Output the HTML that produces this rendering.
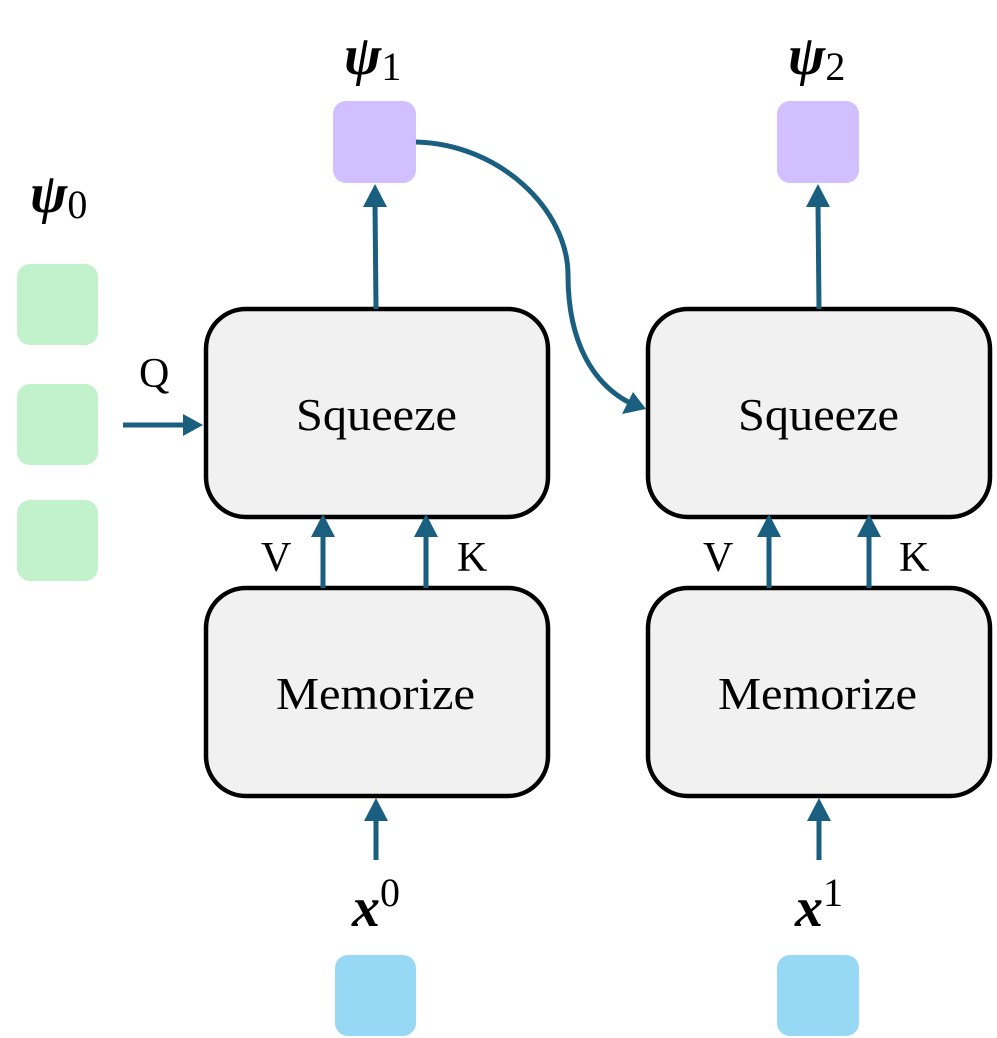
<!DOCTYPE html>
<html><head><meta charset="utf-8"><style>
html,body{margin:0;padding:0;background:#fff;}
svg{display:block;}
text{font-family:"Liberation Serif","DejaVu Serif",serif;fill:#000;}
</style></head><body>
<svg width="997" height="1038" viewBox="0 0 997 1038" xmlns="http://www.w3.org/2000/svg">
<rect x="17" y="264" width="81" height="81" rx="13" fill="#c2f2cc"/>
<rect x="17" y="384" width="81" height="81" rx="13" fill="#c2f2cc"/>
<rect x="17" y="500" width="81" height="81" rx="13" fill="#c2f2cc"/>
<rect x="333" y="101" width="83" height="82" rx="13" fill="#d1bfff"/>
<rect x="777" y="101" width="82" height="82" rx="13" fill="#d1bfff"/>
<rect x="335" y="955" width="81" height="81" rx="13" fill="#97d9f5"/>
<rect x="777" y="955" width="82" height="81" rx="13" fill="#97d9f5"/>
<g fill="#f1f1f1" stroke="#000" stroke-width="4.5">
<rect x="206" y="309" width="342" height="208" rx="40"/>
<rect x="206" y="588" width="342" height="208" rx="40"/>
<rect x="648" y="309" width="342" height="208" rx="40"/>
<rect x="648" y="588" width="342" height="208" rx="40"/>
</g>
<g font-size="46">
<text x="296" y="430" textLength="161" lengthAdjust="spacingAndGlyphs">Squeeze</text>
<text x="276" y="709" textLength="199" lengthAdjust="spacingAndGlyphs">Memorize</text>
<text x="738" y="430" textLength="161" lengthAdjust="spacingAndGlyphs">Squeeze</text>
<text x="718" y="709" textLength="199" lengthAdjust="spacingAndGlyphs">Memorize</text>
</g>
<g stroke="#1a5f80" stroke-width="5" fill="none">
<line x1="123" y1="425" x2="185" y2="425"/>
<line x1="376" y1="309" x2="375" y2="203"/>
<line x1="819" y1="309" x2="818" y2="203"/>
<line x1="323" y1="588" x2="323" y2="535"/>
<line x1="426" y1="588" x2="426" y2="535"/>
<line x1="769" y1="588" x2="769" y2="535"/>
<line x1="869" y1="588" x2="869" y2="535"/>
<line x1="376" y1="860" x2="376" y2="818"/>
<line x1="819" y1="860" x2="819" y2="818"/>
<path d="M416 142 C 500 144, 568 210, 568 275 C 568 345, 595 385, 630 403"/>
</g>
<g fill="#1a5f80">
<polygon points="203,425 183,414 183,436"/>
<polygon points="375,184 363,207 387,207"/>
<polygon points="818,184 806,207 830,207"/>
<polygon points="323,514 311,537 335,537"/>
<polygon points="426,514 414,537 438,537"/>
<polygon points="769,514 757,537 781,537"/>
<polygon points="869,514 857,537 881,537"/>
<polygon points="376,798 364,821 388,821"/>
<polygon points="819,798 807,821 831,821"/>
<polygon points="646,409 622,414 633,392"/>
</g>
<g font-size="42">
<text x="139" y="387">Q</text>
<text x="261" y="571">V</text>
<text x="457" y="571">K</text>
<text x="703" y="571">V</text>
<text x="899" y="571">K</text>
</g>
<g font-size="56">
<text x="30" y="212"><tspan font-weight="bold" font-style="italic">ψ</tspan><tspan font-size="40" dy="6">0</tspan></text>
<text x="344" y="74"><tspan font-weight="bold" font-style="italic">ψ</tspan><tspan font-size="40" dy="6">1</tspan></text>
<text x="788" y="74"><tspan font-weight="bold" font-style="italic">ψ</tspan><tspan font-size="40" dy="6">2</tspan></text>
<text x="352" y="926"><tspan font-weight="bold" font-style="italic">x</tspan><tspan font-size="40" dy="-20">0</tspan></text>
<text x="795" y="926"><tspan font-weight="bold" font-style="italic">x</tspan><tspan font-size="40" dy="-20">1</tspan></text>
</g>
</svg>
</body></html>
